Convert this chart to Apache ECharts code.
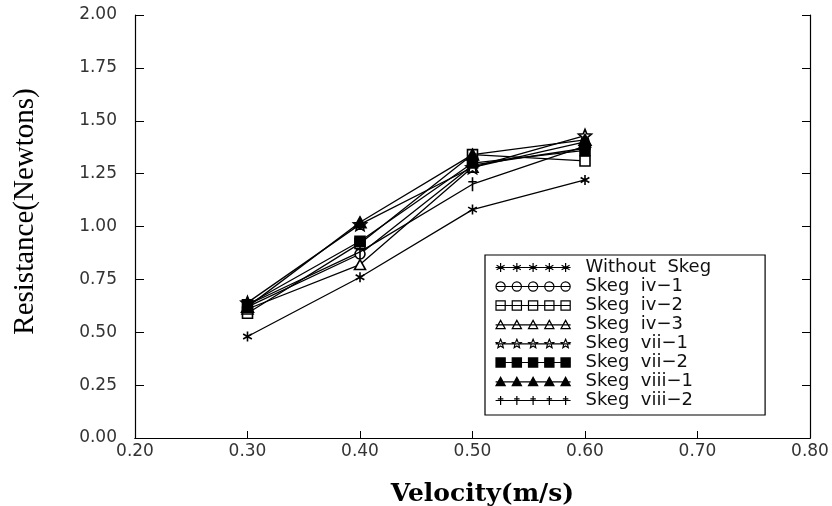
<!DOCTYPE html>
<html><head><meta charset="utf-8">
<script src="https://cdn.jsdelivr.net/npm/echarts@6/dist/echarts.min.js"></script>
<style>html,body{margin:0;padding:0;background:#fff}#c{width:832px;height:506px}</style>
</head><body><div id="c"></div>
<script>
// ---- data ----
const velocities = [0.30, 0.40, 0.50, 0.60];
const seriesNames = ['Without  Skeg', 'Skeg  iv\u22121', 'Skeg  iv\u22122', 'Skeg  iv\u22123',
                     'Skeg  vii\u22121', 'Skeg  vii\u22122', 'Skeg  viii\u22121', 'Skeg  viii\u22122'];
const withoutSkeg = [0.48, 0.76, 1.08, 1.22];
const skegIv1     = [0.62, 0.87, 1.29, 1.37];
const skegIv2     = [0.59, 0.92, 1.34, 1.31];
const skegIv3     = [0.61, 0.82, 1.28, 1.40];
const skegVii1    = [0.64, 1.01, 1.28, 1.43];
const skegVii2    = [0.63, 0.93, 1.30, 1.36];
const skegViii1   = [0.62, 1.02, 1.34, 1.41];
const skegViii2   = [0.63, 0.88, 1.20, 1.38];
const xAxisRange = [0.20, 0.80];
const yAxisRange = [0.00, 2.00];

// ---- marker shapes ----
function shape(kind, cx, cy, r) {
  const p = (x, y) => (cx + x).toFixed(2) + ',' + (cy + y).toFixed(2);
  switch (kind) {
    case 'asterisk':
      return 'M' + p(0, -r) + 'L' + p(0, r) + 'M' + p(-0.87*r, -0.5*r) + 'L' + p(0.87*r, 0.5*r) +
             'M' + p(-0.87*r, 0.5*r) + 'L' + p(0.87*r, -0.5*r);
    case 'circle':
      return 'M' + p(-r, 0) + 'A' + r + ',' + r + ' 0 1 0 ' + p(r, 0) + 'A' + r + ',' + r + ' 0 1 0 ' + p(-r, 0) + 'Z';
    case 'square':
      return 'M' + p(-r, -r) + 'L' + p(r, -r) + 'L' + p(r, r) + 'L' + p(-r, r) + 'Z';
    case 'triangle':
      return 'M' + p(0, -r) + 'L' + p(r, 0.8*r) + 'L' + p(-r, 0.8*r) + 'Z';
    case 'star': {
      let s = '';
      for (let i = 0; i < 10; i++) {
        const a = -Math.PI / 2 + i * Math.PI / 5;
        const rr = i % 2 === 0 ? r : r * 0.45;
        s += (i === 0 ? 'M' : 'L') + p(rr * Math.cos(a), rr * Math.sin(a));
      }
      return s + 'Z';
    }
    case 'dagger':
      return 'M' + p(0, -r) + 'L' + p(0, r) + 'M' + p(-0.6*r, -0.35*r) + 'L' + p(0.6*r, -0.35*r);
  }
}
function legendIcon(kind) {
  let s = 'M0,6L75,6';
  const xs = [5, 21.25, 37.5, 53.75, 70];
  xs.forEach(x => { s += shape(kind, x, 6, 4.6); });
  return 'path://' + s;
}

const seriesData = [withoutSkeg, skegIv1, skegIv2, skegIv3, skegVii1, skegVii2, skegViii1, skegViii2];
const kinds = ['asterisk', 'circle', 'square', 'triangle', 'star', 'square', 'triangle', 'dagger'];
const fills = ['#000', '#fff', '#fff', '#fff', '#fff', '#000', '#000', '#000'];
const sizes = [10, 10, 10, 11, 13, 10, 12, 14];

const series = seriesData.map((vals, i) => ({
  name: seriesNames[i],
  type: 'line',
  data: velocities.map((v, j) => [v, vals[j]]),
  symbol: 'path://' + shape(kinds[i], 0, 0, 5),
  symbolSize: sizes[i],
  symbolKeepAspect: true,
  lineStyle: { color: '#000', width: 1.3 },
  itemStyle: { color: fills[i], borderColor: '#000', borderWidth: 1.6 },
  emphasis: { disabled: true },
  animation: false,
  z: 3 + i
}));

const labelFont = { fontFamily: 'DejaVu Sans', fontSize: 17, color: '#333' };

const option = {
  backgroundColor: '#fff',
  animation: false,
  grid: { left: 135, top: 15, right: 22, bottom: 68, containLabel: false, outerBoundsMode: 'none' },
  legend: {
    orient: 'vertical',
    left: 485, top: 255,
    padding: [3, 54, 5, 10],
    itemWidth: 75, itemHeight: 12, itemGap: 0,
    borderColor: '#000', borderWidth: 1.2,
    backgroundColor: '#fff',
    selectedMode: false,
    textStyle: { fontFamily: 'DejaVu Sans', fontSize: 18, lineHeight: 19, color: '#111', padding: [0, 0, 0, 10] },
    data: seriesNames.map((n, i) => ({
      name: n,
      icon: legendIcon(kinds[i]),
      itemStyle: { color: fills[i], borderColor: '#000', borderWidth: 1.2 }
    }))
  },
  xAxis: [{
    type: 'value', min: xAxisRange[0], max: xAxisRange[1], interval: 0.1,
    name: 'Velocity(m/s)', nameLocation: 'middle', nameGap: 44,
    nameTextStyle: { fontFamily: 'DejaVu Serif', fontWeight: 'bold', fontSize: 25, color: '#000', padding: [0, 0, 0, 20] },
    axisLine: { lineStyle: { color: '#000', width: 1.2 } },
    axisTick: { inside: true, length: 7, lineStyle: { color: '#000' } },
    axisLabel: Object.assign({ margin: 5, formatter: v => v.toFixed(2) }, labelFont),
    splitLine: { show: false }
  }, {
    type: 'value', min: xAxisRange[0], max: xAxisRange[1], interval: 0.1, position: 'top',
    axisLine: { show: true, lineStyle: { color: '#000', width: 1.2 } },
    axisTick: { show: false }, axisLabel: { show: false }, splitLine: { show: false }
  }],
  yAxis: [{
    type: 'value', min: yAxisRange[0], max: yAxisRange[1], interval: 0.25,
    name: 'Resistance(Newtons)', nameLocation: 'middle', nameGap: 95, nameRotate: 90,
    nameTextStyle: { fontFamily: 'Liberation Serif', fontSize: 29, color: '#000', padding: [0, 0, 0, 30] },
    axisLine: { show: true, lineStyle: { color: '#000', width: 1.2 } },
    axisTick: { inside: true, length: 9, lineStyle: { color: '#000' } },
    axisLabel: Object.assign({ margin: 18, formatter: v => v.toFixed(2) }, labelFont),
    splitLine: { show: false }
  }, {
    type: 'value', min: yAxisRange[0], max: yAxisRange[1], interval: 0.25, position: 'right',
    axisLine: { show: true, lineStyle: { color: '#000', width: 1.2 } },
    axisTick: { inside: true, length: 8, lineStyle: { color: '#000' } },
    axisLabel: { show: false }, splitLine: { show: false }
  }],
  series: series
};
const chart = echarts.init(document.getElementById('c'), null, { renderer: 'canvas' });
chart.setOption(option);
</script></body></html>
